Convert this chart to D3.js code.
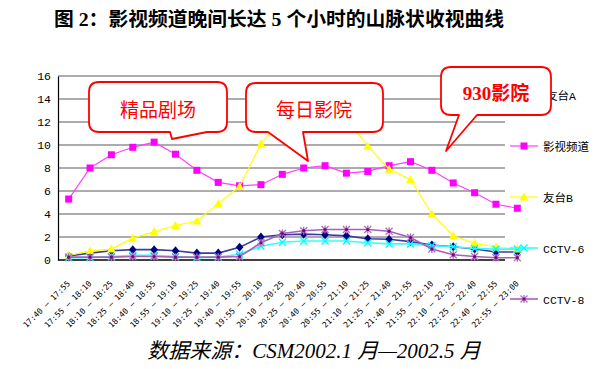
<!DOCTYPE html>
<html>
<head>
<meta charset="utf-8">
<script src="https://cdn.jsdelivr.net/npm/d3@7"></script>
<style>
  html, body { margin: 0; padding: 0; background: #fff; }
  svg { display: block; }
</style>
</head>
<body>
<svg id="chart" width="600" height="369"></svg>
<script>
// ---------- data ----------
const categories = [
  "17:40 – 17:55", "17:55 – 18:10", "18:10 – 18:25", "18:25 – 18:40",
  "18:40 – 18:55", "18:55 – 19:10", "19:10 – 19:25", "19:25 – 19:40",
  "19:40 – 19:55", "19:55 – 20:10", "20:10 – 20:25", "20:25 – 20:40",
  "20:40 – 20:55", "20:55 – 21:10", "21:10 – 21:25", "21:25 – 21:40",
  "21:40 – 21:55", "21:55 – 22:10", "22:10 – 22:25", "22:25 – 22:40",
  "22:40 – 22:55", "22:55 – 23:00"
];
const seriesNames = ["友台A", "影视频道", "友台B", "CCTV-6", "CCTV-8"];
const youtaiA = [0.35, 0.6, 0.8, 0.9, 0.9, 0.8, 0.6, 0.6, 1.1, 2.0, 2.2, 2.25, 2.2, 2.1, 1.85, 1.8, 1.6, 1.3, 1.15, 0.95, 0.7, 0.7];
const yingshi = [5.3, 8.0, 9.15, 9.8, 10.25, 9.2, 7.8, 6.75, 6.45, 6.55, 7.45, 8.0, 8.2, 7.55, 7.7, 8.2, 8.55, 7.8, 6.7, 5.85, 4.85, 4.5];
const youtaiB = [0.4, 0.8, 0.95, 1.9, 2.45, 3.0, 3.4, 4.9, 6.4, 10.1, 12.3, 13.5, 13.5, 12.3, 9.9, 7.9, 7.0, 4.0, 2.1, 1.45, 1.15, 0.95];
const cctv6 = [0.2, 0.2, 0.3, 0.4, 0.4, 0.3, 0.2, 0.25, 0.5, 1.2, 1.55, 1.65, 1.65, 1.65, 1.5, 1.4, 1.4, 1.25, 1.15, 1.0, 0.95, 0.95];
const cctv8 = [0.25, 0.25, 0.25, 0.3, 0.3, 0.25, 0.25, 0.25, 0.3, 1.5, 2.3, 2.55, 2.65, 2.65, 2.65, 2.5, 1.95, 0.95, 0.45, 0.3, 0.2, 0.2];
const yTicks = [0, 2, 4, 6, 8, 10, 12, 14, 16];
const titleText = "图 2：影视频道晚间长达 5 个小时的山脉状收视曲线";
const sourceText = "数据来源：CSM2002.1 月—2002.5 月";
const calloutLabels = ["精品剧场", "每日影院", "930影院"];

// ---------- layout / style ----------
const plot = { left: 58, right: 528, top: 76, bottom: 260, gridRight: 505 };
const styles = [
  { line: "#3c3ca0", fill: "#000080", marker: "diamond", width: 1.6 },
  { line: "#ff40ff", fill: "#ff00ff", marker: "square", width: 1.2 },
  { line: "#ffff00", fill: "#ffff00", marker: "triangle", width: 1.2 },
  { line: "#30ffff", fill: "#00ffff", marker: "x", width: 1.6 },
  { line: "#a860b8", fill: "#800080", marker: "star", width: 1.6 }
];
const seriesData = [youtaiA, yingshi, youtaiB, cctv6, cctv8];
const drawOrder = [0, 1, 2, 3, 4];

const svg = d3.select("#chart");

const x = d3.scaleBand().domain(categories).range([plot.left, plot.right]).padding(0);
const cx = c => x(c) + x.bandwidth() / 2;
const y = d3.scaleLinear().domain([0, 16]).range([plot.bottom, plot.top]);

// title
svg.append("text")
  .attr("x", 279).attr("y", 26)
  .attr("text-anchor", "middle")
  .attr("font-family", "'Liberation Serif', 'Noto Sans CJK SC'")
  .attr("font-weight", 700)
  .attr("font-size", 19.8)
  .attr("fill", "#000")
  .text(titleText);

// gridlines
const gridG = svg.append("g");
gridG.selectAll("line").data(yTicks.filter(d => d > 0)).join("line")
  .attr("x1", plot.left).attr("x2", plot.gridRight)
  .attr("y1", d => y(d)).attr("y2", d => y(d))
  .attr("stroke", "#5a5a5a").attr("stroke-width", 1.2);

// y axis
const yAxis = d3.axisLeft(y).tickValues(yTicks).tickSize(0).tickPadding(7);
const yg = svg.append("g").attr("transform", `translate(${plot.left},0)`).call(yAxis);
yg.select(".domain").attr("stroke", "#000").attr("stroke-width", 1.2);
yg.selectAll("text")
  .attr("font-family", "'Liberation Mono', monospace")
  .attr("font-size", 11.5).attr("fill", "#000");

// x axis line
svg.append("line")
  .attr("x1", plot.left).attr("x2", plot.gridRight)
  .attr("y1", plot.bottom).attr("y2", plot.bottom)
  .attr("stroke", "#000").attr("stroke-width", 1.3);

// x labels
const xAxis = d3.axisBottom(x).tickSize(0).tickPadding(0);
const xg = svg.append("g").attr("transform", `translate(0,${plot.bottom})`).call(xAxis);
xg.select(".domain").remove();
xg.selectAll("text")
  .attr("font-family", "'DejaVu Sans Mono', monospace")
  .attr("font-size", 8)
  .attr("fill", "#000")
  .attr("text-anchor", "end")
  .attr("dy", 0)
  .attr("transform", "translate(2,24) rotate(-45)");

// markers
function drawMarker(g, type, px, py, st) {
  if (type === "square") {
    g.append("rect").attr("x", px - 3.5).attr("y", py - 3.5).attr("width", 7).attr("height", 7)
      .attr("fill", st.fill);
  } else if (type === "diamond") {
    g.append("path").attr("d", `M${px},${py - 4.5}L${px + 3.8},${py}L${px},${py + 4.5}L${px - 3.8},${py}Z`)
      .attr("fill", st.fill);
  } else if (type === "triangle") {
    g.append("path").attr("d", `M${px},${py - 4.5}L${px + 4.5},${py + 3.5}L${px - 4.5},${py + 3.5}Z`)
      .attr("fill", st.fill);
  } else if (type === "x") {
    g.append("path").attr("d", `M${px - 3.5},${py - 3.5}L${px + 3.5},${py + 3.5}M${px - 3.5},${py + 3.5}L${px + 3.5},${py - 3.5}`)
      .attr("stroke", st.fill).attr("stroke-width", 1.4).attr("fill", "none");
  } else if (type === "star") {
    g.append("path").attr("d", `M${px - 3.5},${py - 3.5}L${px + 3.5},${py + 3.5}M${px - 3.5},${py + 3.5}L${px + 3.5},${py - 3.5}M${px},${py - 4}L${px},${py + 4}`)
      .attr("stroke", "#b070c0").attr("stroke-width", 1.3).attr("fill", "none");
    g.append("circle").attr("cx", px).attr("cy", py).attr("r", 1.6).attr("fill", st.fill);
  }
}

const line = d3.line().x((d, i) => cx(categories[i])).y(d => y(d));
const seriesG = svg.append("g");
drawOrder.forEach(si => {
  const st = styles[si];
  const g = seriesG.append("g");
  g.append("path").datum(seriesData[si]).attr("d", line)
    .attr("fill", "none").attr("stroke", st.line).attr("stroke-width", st.width);
  seriesData[si].forEach((v, i) => drawMarker(g, st.marker, cx(categories[i]), y(v), st));
});

// legend
const legendY = [95, 146, 197, 248, 299];
const legG = svg.append("g");
seriesNames.forEach((name, i) => {
  const st = styles[i];
  const ly = legendY[i];
  legG.append("line").attr("x1", 510).attr("x2", 538).attr("y1", ly).attr("y2", ly)
    .attr("stroke", st.line).attr("stroke-width", st.width);
  drawMarker(legG, st.marker, 524, ly, st);
  legG.append("text").attr("x", i === 0 ? 546 : 543).attr("y", ly + 4.5)
    .attr("font-family", "'Liberation Mono', 'Noto Sans CJK SC'")
    .attr("font-size", 11.5).attr("fill", "#000")
    .text(name);
});

// callouts
function calloutPath(b) {
  const r = 10;
  const { x0, y0, x1, y1, w } = b; // w: wedge [a, tipx, tipy, c] along bottom edge
  return `M${x0 + r},${y0}` +
    `L${x1 - r},${y0}Q${x1},${y0} ${x1},${y0 + r}` +
    `L${x1},${y1 - r}Q${x1},${y1} ${x1 - r},${y1}` +
    `L${w[3]},${y1}L${w[1]},${w[2]}L${w[0]},${y1}` +
    `L${x0 + r},${y1}Q${x0},${y1} ${x0},${y1 - r}` +
    `L${x0},${y0 + r}Q${x0},${y0} ${x0 + r},${y0}Z`;
}
const callouts = [
  { x0: 89, y0: 82, x1: 227, y1: 132, w: [170, 172, 139, 207], tx: 158, ty: 117, bold: false },
  { x0: 246, y0: 83, x1: 383, y1: 132, w: [268, 308, 161, 303], tx: 314, ty: 117, bold: false },
  { x0: 441, y0: 67, x1: 551, y1: 115, w: [459, 446, 151, 477], tx: 496, ty: 100, bold: true }
];
const callG = svg.append("g");
callouts.forEach((c, i) => {
  callG.append("path").attr("d", calloutPath(c))
    .attr("fill", "#fff").attr("stroke", "#ff0000").attr("stroke-width", 1.8)
    .attr("stroke-linejoin", "round");
  callG.append("text").attr("x", c.tx).attr("y", c.ty)
    .attr("text-anchor", "middle")
    .attr("font-family", c.bold ? "'Liberation Serif', 'Noto Sans CJK SC'" : "'Noto Sans CJK SC'")
    .attr("font-weight", c.bold ? 700 : 400)
    .attr("font-size", 19)
    .attr("fill", "#ff0000")
    .text(calloutLabels[i]);
});

// source
svg.append("text")
  .attr("x", 314).attr("y", 358)
  .attr("text-anchor", "middle")
  .attr("font-family", "'Liberation Serif', 'Noto Sans CJK SC'")
  .attr("font-style", "italic")
  .attr("font-size", 21)
  .attr("fill", "#000")
  .text(sourceText);
</script>
</body>
</html>
